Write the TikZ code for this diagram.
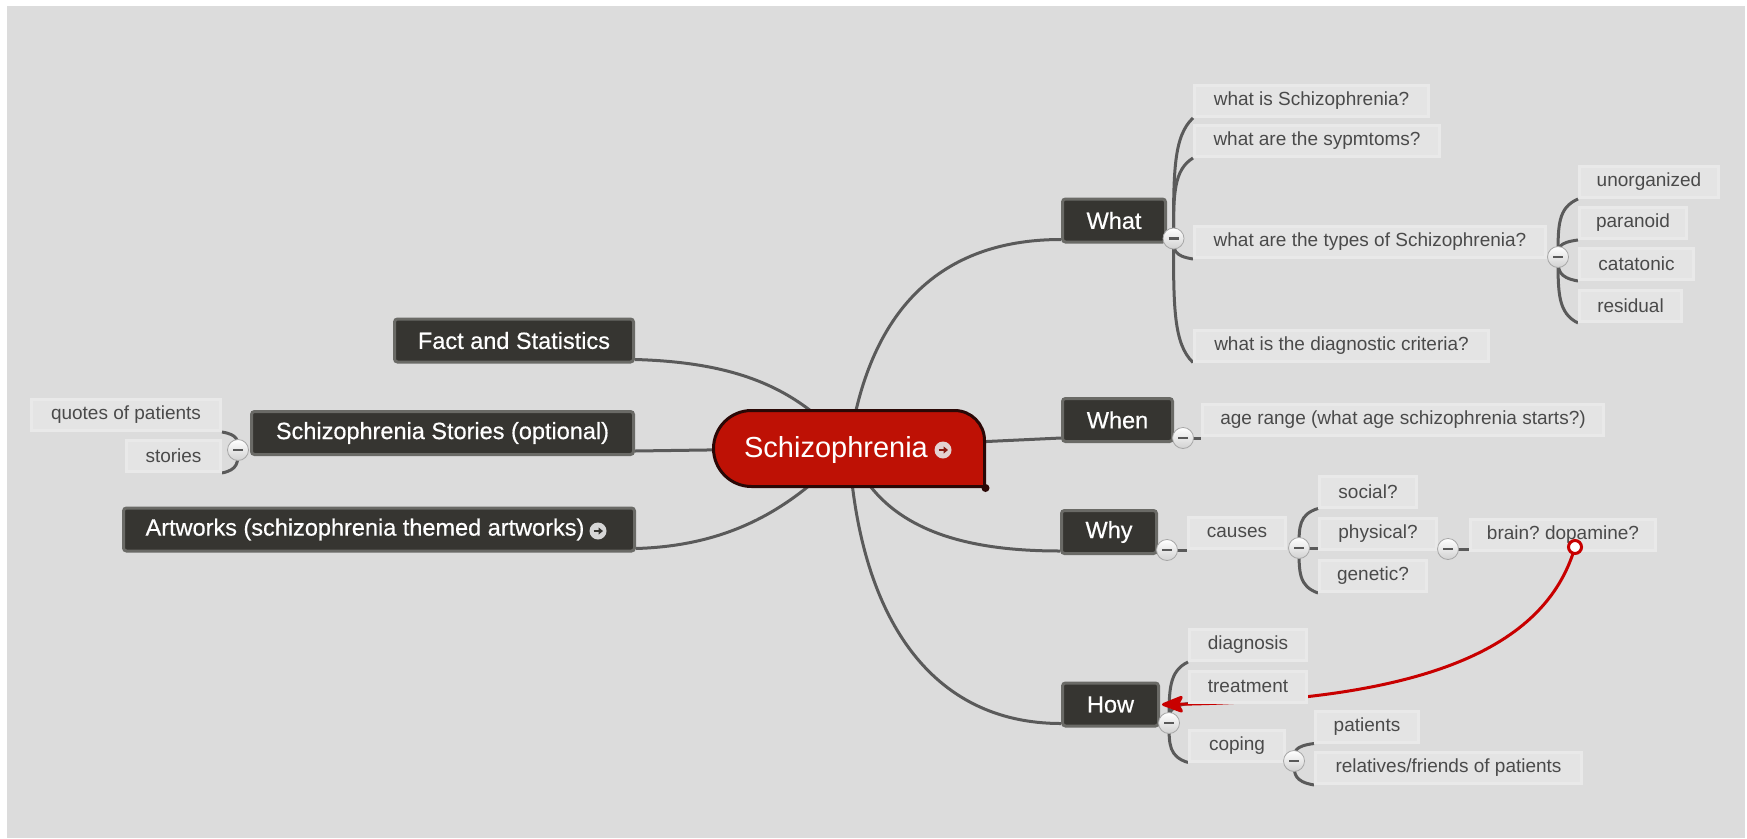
\documentclass[tikz,border=0pt]{standalone}
\usepackage{fontspec}
\setmainfont{Liberation Sans}
\newfontfamily\darkfont{Liberation Sans}[FakeBold=0.5]
\usetikzlibrary{arrows.meta,calc}
\pgfdeclarelayer{bg}
\pgfdeclarelayer{lines}
\pgfsetlayers{bg,lines,main}
\definecolor{bggray}{HTML}{DCDCDC}
\definecolor{darkbox}{HTML}{363531}
\definecolor{darkborder}{HTML}{6A6A66}
\definecolor{lightbox}{HTML}{E4E4E4}
\definecolor{lightborder}{HTML}{E9E9E9}
\definecolor{lighttext}{HTML}{4A4A4A}
\definecolor{connc}{HTML}{5A5A5A}
\definecolor{hubred}{HTML}{BE1105}
\definecolor{hubedge}{HTML}{2A0806}
\definecolor{linkred}{HTML}{C80000}
\definecolor{hubicon}{HTML}{E3D2D0}
\definecolor{hubarrow}{HTML}{8A1A10}
\definecolor{articon}{HTML}{D6D6D6}
\frenchspacing
\begin{document}
\begin{tikzpicture}[x=1pt,y=-1pt,
  dark/.style={draw=darkborder, fill=darkbox, line width=3pt, rounded corners=3pt,
    text=white, font=\darkfont\fontsize{23.5}{27}\selectfont, minimum height=43pt, inner sep=0pt},
  light/.style={draw=lightborder, fill=lightbox, line width=3pt, text=lighttext,
    font=\fontsize{19}{22}\selectfont, minimum height=31pt, inner sep=0pt},
  conn/.style={draw=connc, line width=3pt},
  brace/.style={to path={.. controls ($(\tikztostart)!0.55!(\tikztostart |- \tikztotarget)$)
     and ($(\tikztostart)!0.85!(\tikztostart |- \tikztotarget)$) .. (\tikztotarget)}},
  minus/.style={circle, minimum size=21pt, inner sep=0pt, top color=white,
    bottom color=black!18, draw=black!35, line width=0.8pt,
    path picture={\draw[line width=2.5pt, black!65]
      ([xshift=-5pt]path picture bounding box.center) --
      ([xshift=5pt]path picture bounding box.center);}},
  icon/.style 2 args={circle, minimum size=17pt, inner sep=0pt, fill=#1,
    path picture={\draw[#2, line width=2pt, -{Triangle[length=4.5pt,width=7pt]}]
      ([xshift=-4.5pt]path picture bounding box.center) --
      ([xshift=5pt]path picture bounding box.center);}},
  redlink/.style={draw=linkred, line width=3pt,
    -{Stealth[length=25pt,width=19pt,inset=5pt,round]}}
]
\useasboundingbox (0,0) rectangle (1747,838);
\begin{pgfonlayer}{bg}
  \fill[white] (0,0) rectangle (1747,838);
  \fill[bggray] (7,6) rectangle (1745,838);
\end{pgfonlayer}

% central node
\draw[fill=hubred, draw=hubedge, line width=3pt]
  (751.5,486.5) .. controls (730.5,486.5) and (713.5,469.5) .. (713.5,448.5)
  .. controls (713.5,427.5) and (730.5,410.5) .. (751.5,410.5) -- (954.5,410.5)
  .. controls (971.1,410.5) and (984.5,423.9) .. (984.5,440.5) -- (984.5,486.5) -- cycle;
\node[circle, fill=hubedge, minimum size=8pt, inner sep=0pt] (hubdot) at (985.5,488) {};
\node[text=white, font=\fontsize{29}{32}\selectfont, inner sep=0pt] (central) at (836,449.6) {Schizophrenia};
\node[icon={hubicon}{hubarrow}] (cicon) at (943,450) {};
\coordinate (hub) at (849,448);

% main branches
\node[dark, minimum width=239pt] (fact) at (514,340.5) {Fact and Statistics};
\node[dark, minimum width=382pt] (ss) at (442.5,433) {Schizophrenia Stories (optional)};
\node[dark, minimum width=511pt] (art) at (379,529.5) {Artworks (schizophrenia themed artworks)\kern28pt};
\node[icon={articon}{darkbox}] (aicon) at (598,531) {};
\node[dark, minimum width=103pt] (what) at (1114,220.5) {What};
\node[dark, minimum width=110pt] (when) at (1117.5,420) {When};
\node[dark, minimum width=95pt] (why) at (1109,532) {Why};
\node[dark, minimum width=96pt] (how) at (1110.5,704.5) {How};

% sub topics
\node[light, minimum width=234pt] (q1) at (1311.5,101) {what is Schizophrenia?};
\node[light, minimum width=245pt] (q2) at (1317,141) {what are the sypmtoms?};
\node[light, minimum width=351pt] (q3) at (1370,242) {what are the types of Schizophrenia?};
\node[light, minimum width=294pt] (q4) at (1341.5,345.5) {what is the diagnostic criteria?};
\node[light, minimum width=139pt] (t1) at (1649,182) {unorganized};
\node[light, minimum width=107pt] (t2) at (1633,223) {paranoid};
\node[light, minimum width=114pt] (t3) at (1636.5,264) {catatonic};
\node[light, minimum width=102pt] (t4) at (1630.5,306) {residual};
\node[light, minimum width=401pt] (age) at (1403,420) {age range (what age schizophrenia starts?)};
\node[light, minimum width=97pt] (causes) at (1237,532.5) {causes};
\node[light, minimum width=97pt] (social) at (1368,491.5) {social?};
\node[light, minimum width=117pt] (physical) at (1378,534) {physical?};
\node[light, minimum width=107pt] (genetic) at (1373,576) {genetic?};
\node[light, minimum width=185pt] (brain) at (1563,535) {brain? dopamine?};
\node[light, minimum width=117pt] (diag) at (1248,645) {diagnosis};
\node[light, minimum width=117pt] (treat) at (1248,686.5) {treatment};
\node[light, minimum width=95pt] (coping) at (1237,745.5) {coping};
\node[light, minimum width=103pt] (pat) at (1367,726.5) {patients};
\node[light, minimum width=266pt] (rel) at (1448.5,768) {relatives/friends of patients};
\node[light, minimum width=189pt] (quotes) at (126,415) {quotes of patients};
\node[light, minimum width=94pt] (stories) at (173.5,456) {stories};

% collapse markers
\node[minus] (mwhat) at (1173.5,238.5) {};
\node[minus] (mwhen) at (1183,438) {};
\node[minus] (mwhy) at (1167,550) {};
\node[minus] (mhow) at (1169,723) {};
\node[minus] (mtypes) at (1558,257) {};
\node[minus] (mcauses) at (1299,548) {};
\node[minus] (mphys) at (1448,549) {};
\node[minus] (mcoping) at (1294,761) {};
\node[minus] (mss) at (238,450) {};

\node[circle, draw=linkred, fill=white, line width=3pt, minimum size=13pt, inner sep=0pt] (redc) at (1575,547) {};

\begin{pgfonlayer}{lines}
  \draw[conn] (hub) .. controls +(21,-148) and +(-112,0) .. ([yshift=4pt]what.south west);
  \draw[conn] (hub) -- ([yshift=5pt]when.south west);
  \draw[conn] (hub) .. controls +(30,80) and +(-100,0) .. ([yshift=4pt]why.south west);
  \draw[conn] (hub) .. controls +(10,170) and +(-130,0) .. ([yshift=4pt]how.south west);
  \draw[conn] ([yshift=4pt]fact.south east) .. controls +(106,3) and +(-49,-58) .. (hub);
  \draw[conn] ([yshift=5pt]ss.south east) -- (hub);
  \draw[conn] ([yshift=4pt]art.south east) .. controls +(104,-3) and +(-49,52) .. (hub);

  \draw[conn] (mwhat.center) to[brace] (q1.south west);
  \draw[conn] (mwhat.center) to[brace] (q2.south west);
  \draw[conn] (mwhat.center) to[brace] (q3.south west);
  \draw[conn] (mwhat.center) to[brace] (q4.south west);
  \draw[conn] (mtypes.center) to[brace] (t1.south west);
  \draw[conn] (mtypes.center) to[brace] (t2.south west);
  \draw[conn] (mtypes.center) to[brace] (t3.south west);
  \draw[conn] (mtypes.center) to[brace] (t4.south west);
  \draw[conn] (mwhen.center) -- (mwhen.center -| age.west);
  \draw[conn] (mwhy.center) -- (mwhy.center -| causes.west);
  \draw[conn] (mcauses.center) to[brace] (social.south west);
  \draw[conn] (mcauses.center) -- (mcauses.center -| physical.west);
  \draw[conn] (mcauses.center) to[brace] (genetic.south west);
  \draw[conn] (mphys.center) -- (mphys.center -| brain.west);
  \draw[conn] (mhow.center) to[brace] (diag.south west);
  \draw[conn] (mhow.center) to[brace] (treat.south west);
  \draw[conn] (mhow.center) to[brace] (coping.south west);
  \draw[conn] (mcoping.center) to[brace] (pat.south west);
  \draw[conn] (mcoping.center) to[brace] (rel.south west);
  \draw[conn] (mss.center) to[brace] (quotes.south east);
  \draw[conn] (mss.center) to[brace] (stories.south east);

  \draw[redlink] (redc.center) .. controls +(-30,103) and +(259,-4) .. ([xshift=2pt]how.east);
\end{pgfonlayer}
\end{tikzpicture}
\end{document}
